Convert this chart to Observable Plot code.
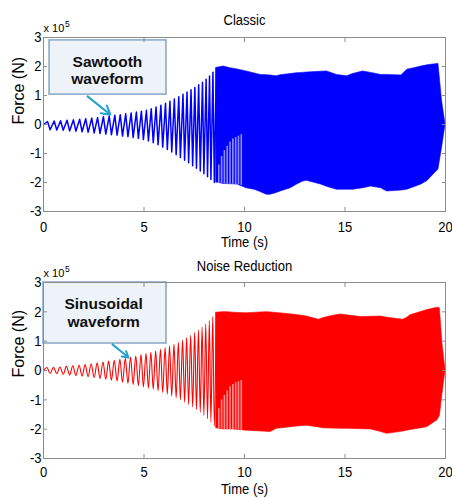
<!DOCTYPE html>
<html><head><meta charset="utf-8">
<script src="https://cdn.jsdelivr.net/npm/d3@7"></script>
<script src="https://cdn.jsdelivr.net/npm/@observablehq/plot@0.6"></script>
<style>
body{margin:0;background:#fff;}
#chart svg{display:block;}
</style></head><body><div id="chart"></div>
<script>
// Force values are in units of 10^5 N (axis multiplier "x 10^5")
const xTicks = [0, 5, 10, 15, 20];
const yTicks = [-3, -2, -1, 0, 1, 2, 3];
const panelTitles = ["Classic", "Noise Reduction"];

// start time of each early oscillation cycle (s)
const cycleStartTime = [0.00,0.33,0.66,0.98,1.30,1.61,1.92,2.22,2.52,2.81,3.10,3.38,3.66,3.93,4.20,4.46,4.72,4.97,5.22,5.46,5.70,5.93,6.16,6.38,6.60,6.81,7.02,7.22,7.42,7.61,7.80,7.98,8.16,8.33,8.50];

// Classic: sawtooth cycles
const sawPeakTime = [0.20,0.53,0.85,1.17,1.49,1.80,2.10,2.40,2.69,2.98,3.27,3.55,3.82,4.09,4.36,4.62,4.87,5.12,5.36,5.60,5.84,6.07,6.29,6.51,6.73,6.94,7.14,7.34,7.53,7.72,7.91,8.09,8.26,8.43,8.60];
const sawTroughForce = [0.00,-0.18,-0.19,-0.20,-0.22,-0.23,-0.25,-0.27,-0.29,-0.31,-0.33,-0.35,-0.37,-0.40,-0.42,-0.45,-0.48,-0.52,-0.57,-0.63,-0.70,-0.78,-0.86,-0.95,-1.04,-1.14,-1.23,-1.32,-1.42,-1.51,-1.60,-1.70,-1.80,-1.90,-2.00];
const sawPeakForce = [0.10,0.12,0.13,0.15,0.16,0.18,0.20,0.22,0.24,0.27,0.29,0.32,0.34,0.37,0.40,0.43,0.46,0.49,0.54,0.60,0.66,0.73,0.80,0.88,0.96,1.04,1.12,1.20,1.28,1.37,1.46,1.56,1.67,1.80,1.95];

// Noise Reduction: sinusoidal cycles
const sinePeakTime = [0.17,0.50,0.82,1.14,1.46,1.77,2.07,2.37,2.67,2.96,3.24,3.52,3.80,4.07,4.33,4.59,4.85,5.10,5.34,5.58,5.82,6.05,6.27,6.49,6.71,6.92,7.12,7.32,7.52,7.71,7.89,8.07,8.25,8.42,8.59];
const sineTroughForce = [0.00,-0.10,-0.11,-0.13,-0.15,-0.17,-0.19,-0.21,-0.24,-0.27,-0.30,-0.33,-0.36,-0.40,-0.44,-0.48,-0.52,-0.56,-0.60,-0.64,-0.69,-0.75,-0.81,-0.87,-0.93,-1.00,-1.08,-1.16,-1.24,-1.33,-1.43,-1.53,-1.64,-1.76,-1.90];
const sinePeakForce = [0.10,0.11,0.12,0.14,0.16,0.18,0.20,0.23,0.26,0.29,0.32,0.35,0.38,0.42,0.46,0.50,0.54,0.58,0.62,0.67,0.72,0.78,0.84,0.90,0.96,1.04,1.12,1.20,1.29,1.38,1.48,1.58,1.70,1.83,1.97];

// Dense high-frequency part: envelope of the signal
const classicEnvTime = [8.60,8.96,9.30,9.65,10.1,10.5,10.8,11.1,11.3,11.6,11.8,12.3,12.6,12.9,13.1,13.8,14.1,14.6,15.1,15.4,15.9,16.3,16.8,17.1,17.8,18.1,18.5,18.8,19.1,19.4,19.65,19.83,20.0];
const classicEnvHigh = [1.95,2.00,1.94,1.90,1.83,1.76,1.71,1.70,1.69,1.66,1.70,1.74,1.77,1.78,1.79,1.82,1.83,1.71,1.66,1.74,1.83,1.78,1.71,1.71,1.69,1.89,1.95,2.00,2.04,2.07,2.09,0.80,0.00];
const classicEnvLow = [-2.00,-2.05,-2.06,-2.07,-2.20,-2.25,-2.33,-2.42,-2.42,-2.36,-2.31,-2.20,-2.08,-1.97,-1.94,-2.07,-2.15,-2.25,-2.25,-2.25,-2.20,-2.14,-2.20,-2.31,-2.28,-2.25,-2.15,-2.07,-1.95,-1.73,-1.55,-0.80,0.00];

const noiseEnvTime = [8.60,8.90,9.15,9.45,9.70,10.1,10.6,11.1,11.3,11.6,12.1,12.6,13.1,13.7,13.9,14.3,14.8,15.1,15.8,16.3,16.8,17.1,17.9,18.1,18.25,18.9,19.1,19.6,19.72,19.85,20.0];
const noiseEnvHigh = [1.97,1.99,1.99,1.97,1.96,1.95,1.97,1.99,1.98,1.96,1.93,1.89,1.84,1.73,1.78,1.85,1.91,1.88,1.82,1.83,1.84,1.80,1.73,1.80,1.88,2.02,2.06,2.14,2.12,0.90,0.00];
const noiseEnvLow = [-1.97,-2.01,-2.01,-2.01,-2.03,-2.05,-2.07,-2.09,-2.10,-1.99,-1.95,-1.91,-1.88,-1.94,-1.97,-1.98,-1.99,-1.99,-2.00,-2.01,-2.10,-2.16,-2.08,-2.05,-2.03,-1.96,-1.93,-1.70,-1.55,-0.80,0.00];

// lighter (aliased) stripes at the start of the dense part
const classicStripeTime = [8.72,8.86,9.00,9.14,9.28,9.42,9.56,9.70,9.84];
const classicStripeHigh = [-1.40,-1.10,-0.90,-0.75,-0.60,-0.50,-0.45,-0.40,-0.35];
const classicStripeLow = [-2.03,-2.04,-2.05,-2.06,-2.06,-2.06,-2.07,-2.08,-2.10];
const noiseStripeTime = [8.72,8.86,9.00,9.14,9.28,9.42,9.56,9.70,9.84];
const noiseStripeHigh = [-1.30,-1.00,-0.85,-0.70,-0.55,-0.48,-0.42,-0.38,-0.34];
const noiseStripeLow = [-1.99,-2.00,-2.01,-2.01,-2.01,-2.01,-2.02,-2.03,-2.04];

// callouts
const noteText = ["Sawtooth\nwaveform", "Sinusoidal\nwaveform"];
const noteBoxT1 = [0.30, 0.00], noteBoxT2 = [6.12, 6.12];
const noteBoxF1 = [1.03, 0.92], noteBoxF2 = [2.90, 3.00];
const noteTextT = [3.18, 2.99], noteTextF = [1.38, 1.50];
const arrowT1 = [2.19, 3.43], arrowF1 = [0.97, 0.89];
const arrowT2 = [3.33, 4.23], arrowF2 = [0.34, 0.44];

function waveTable(startT, peakT, troughF, peakF) {
  const rows = [];
  for (let i = 0; i < startT.length; i++) {
    rows.push({t: startT[i], f: troughF[i]});
    rows.push({t: peakT[i], f: peakF[i]});
  }
  return rows;
}
function bandTable(t, lo, hi) { return t.map((d, i) => ({t: d, lo: lo[i], hi: hi[i]})); }
function note(i) {
  return {label: noteText[i], x1: noteBoxT1[i], x2: noteBoxT2[i], y1: noteBoxF1[i], y2: noteBoxF2[i],
    tx: noteTextT[i], ty: noteTextF[i], ax1: arrowT1[i], ay1: arrowF1[i], ax2: arrowT2[i], ay2: arrowF2[i]};
}

const grey = "#8c8c8c";
function panel(o) {
  return Plot.plot({
    width: 452, height: 249,
    marginLeft: 43, marginRight: 7, marginTop: o.mt, marginBottom: o.mb,
    style: {fontFamily: "'Liberation Sans', Arial, Helvetica, sans-serif", fontSize: "13px", background: "#fff", color: "#000", overflow: "visible"},
    x: {domain: [0, 20]},
    y: {domain: [-3, 3]},
    marks: [
      Plot.line(o.wave, {x: "t", y: "f", stroke: o.color, strokeWidth: o.sw, curve: o.curve}),
      Plot.areaY(o.band, {x: "t", y1: "lo", y2: "hi", fill: o.color, stroke: o.color, strokeWidth: 0.6}),
      Plot.ruleX(o.stripe, {x: "t", y1: "lo", y2: "hi", stroke: "#fff", strokeOpacity: 0.55, strokeWidth: 1.6}),
      Plot.rect([o.note], {x1: "x1", x2: "x2", y1: "y1", y2: "y2", fill: "#edf3f9", stroke: "#86a6c6", strokeWidth: 1.5}),
      Plot.text([o.note], {x: "tx", y: "ty", text: "label", lineAnchor: "bottom", lineHeight: 1.16, fontSize: 15.5, fontWeight: "bold", fill: "#111"}),
      Plot.arrow([o.note], {x1: "ax1", y1: "ay1", x2: "ax2", y2: "ay2", stroke: "#27a3cc", strokeWidth: 2, headLength: 10, headAngle: 60}),
      Plot.frame({stroke: grey}),
      Plot.axisX({anchor: "bottom", ticks: xTicks, tickSize: 0, tickPadding: o.xpad, tickFormat: d => String(d), label: null}),
      Plot.axisY({anchor: "left", ticks: yTicks, tickSize: 0, tickPadding: 2, tickFormat: d => String(d), label: null}),
      ...["bottom", "top"].map(a => Plot.axisX({anchor: a, ticks: xTicks, tickSize: -4, tickFormat: () => "", label: null, stroke: grey})),
      ...["left", "right"].map(a => Plot.axisY({anchor: a, ticks: yTicks, tickSize: -4, tickFormat: () => "", label: null, stroke: grey})),
      Plot.text([o.title], {frameAnchor: "top", dy: o.titleDy, lineAnchor: "bottom"}),
      Plot.text(["Time (s)"], {frameAnchor: "bottom", dy: o.xlabDy, lineAnchor: "bottom"}),
      Plot.text(["Force (N)"], {frameAnchor: "left", rotate: -90, dx: -25, dy: o.ylabDy, lineAnchor: "middle", fontSize: 16}),
      Plot.text(["x 10"], {frameAnchor: "top-left", dy: -5.5, textAnchor: "start", lineAnchor: "bottom", fontSize: 11}),
      Plot.text(["5"], {frameAnchor: "top-left", dx: 21.5, dy: -11, textAnchor: "start", lineAnchor: "bottom", fontSize: 8.5})
    ]
  });
}

// the reference lettering is tall and narrow: enlarge glyphs but keep widths
function condense(svg, factor) {
  const keep = new Set([...panelTitles, "Time (s)"]);
  svg.querySelectorAll("text").forEach(t => {
    if (t.querySelector("tspan")) return;
    const g = t.closest("g[aria-label]");
    const isTick = g && /tick label/.test(g.getAttribute("aria-label") || "");
    if (!isTick && !keep.has(t.textContent)) return;
    const w = t.getComputedTextLength();
    if (!(w > 0)) return;
    const fs = parseFloat(getComputedStyle(t).fontSize);
    t.style.fontSize = (fs * factor) + "px";
    t.setAttribute("textLength", w);
    t.setAttribute("lengthAdjust", "spacingAndGlyphs");
  });
}

const chart = document.getElementById("chart");
const topPanel = panel({
  title: panelTitles[0], color: "#0000ff", sw: 1.5, curve: "linear",
  wave: waveTable(cycleStartTime, sawPeakTime, sawTroughForce, sawPeakForce),
  band: bandTable(classicEnvTime, classicEnvLow, classicEnvHigh),
  stripe: bandTable(classicStripeTime, classicStripeLow, classicStripeHigh),
  note: note(0), mt: 37, mb: 38, xpad: 10, titleDy: -12.5, xlabDy: 35, ylabDy: 0
});
const bottomPanel = panel({
  title: panelTitles[1], color: "#ff0000", sw: 1.1, curve: "monotone-x",
  wave: waveTable(cycleStartTime, sinePeakTime, sineTroughForce, sinePeakForce),
  band: bandTable(noiseEnvTime, noiseEnvLow, noiseEnvHigh),
  stripe: bandTable(noiseStripeTime, noiseStripeLow, noiseStripeHigh),
  note: note(1), mt: 33, mb: 40, xpad: 8.5, titleDy: -12, xlabDy: 35.5, ylabDy: 7
});
chart.append(topPanel, bottomPanel);
condense(topPanel, 1.13);
condense(bottomPanel, 1.13);
</script></body></html>
